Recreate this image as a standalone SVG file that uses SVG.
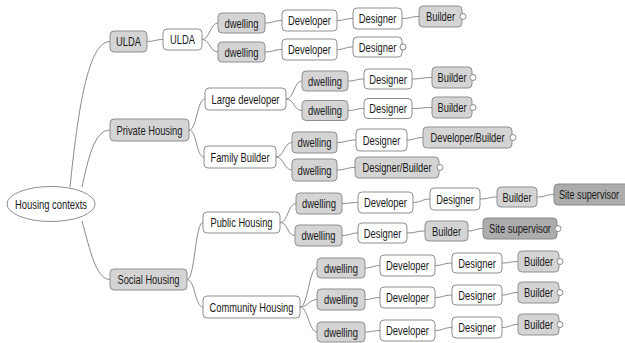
<svg xmlns="http://www.w3.org/2000/svg" width="625" height="343" viewBox="0 0 625 343">
<style>
.g{fill:#d4d4d4;stroke:#8f8f8f;stroke-width:1}
.w{fill:#ffffff;stroke:#8f8f8f;stroke-width:1}
.d{fill:#acacac;stroke:#8a8a8a;stroke-width:1}
.t{font-family:"Liberation Sans",Arial,sans-serif;font-size:13px;fill:#1a1a1a;text-anchor:middle;dominant-baseline:central}
.c{fill:none;stroke:#8a8a8a;stroke-width:1}
.leaf{fill:#fff;stroke:#8a8a8a;stroke-width:1}
</style>
<rect width="625" height="343" fill="#fff"/>
<g id="connectors">
<path class="c" d="M70,187 C78,110 88,41.5 110,41.5"/>
<path class="c" d="M82,187 C88,160 94,130 110,130"/>
<path class="c" d="M82,221 C90,250 96,279.5 110,279.5"/>
<path class="c" d="M147,41.5 C155,41.5 155,39.5 163,39.5"/>
<path class="c" d="M202,39.5 C210,39.5 210,23 218,23"/>
<path class="c" d="M202,39.5 C210,39.5 210,52 218,52"/>
<path class="c" d="M265,23 C273,23 274,20.5 282,20.5"/>
<path class="c" d="M337,20.5 C345,20.5 345,18.5 353,18.5"/>
<path class="c" d="M402,18.5 C410,18.5 411,16.5 419,16.5"/>
<path class="c" d="M265,52 C273,52 274,49.5 282,49.5"/>
<path class="c" d="M337,49.5 C345,49.5 345,47 353,47"/>
<path class="c" d="M189,130 C197,130 197,99 205,99"/>
<path class="c" d="M189,130 C197,130 196,157 204,157"/>
<path class="c" d="M286,99 C294,99 294,81 302,81"/>
<path class="c" d="M286,99 C294,99 294,110.5 302,110.5"/>
<path class="c" d="M348,81 C356,81 356,79 364,79"/>
<path class="c" d="M412,79 C422,79 422,77.5 432,77.5"/>
<path class="c" d="M348,110.5 C356,110.5 356,108.5 364,108.5"/>
<path class="c" d="M412,108.5 C422,108.5 422,107.5 432,107.5"/>
<path class="c" d="M276,157 C284,157 284,142.5 292,142.5"/>
<path class="c" d="M276,157 C284,157 284,170 292,170"/>
<path class="c" d="M337,142.5 C346,142.5 347,140 356,140"/>
<path class="c" d="M407,140 C415,140 415,137.5 423,137.5"/>
<path class="c" d="M337,170 C346,170 346,167.5 355,167.5"/>
<path class="c" d="M187,279.5 C195,279.5 195,222.5 203,222.5"/>
<path class="c" d="M187,279.5 C195,279.5 195,307 203,307"/>
<path class="c" d="M280,222.5 C288,222.5 288,203.5 296,203.5"/>
<path class="c" d="M280,222.5 C288,222.5 287,235.5 295,235.5"/>
<path class="c" d="M342,203.5 C350,203.5 350,202.5 358,202.5"/>
<path class="c" d="M413,202.5 C421,202.5 422,199 430,199"/>
<path class="c" d="M480,199 C488,199 489,197 497,197"/>
<path class="c" d="M537,197 C545,197 546,194.5 554,194.5"/>
<path class="c" d="M342,235.5 C350,235.5 350,233 358,233"/>
<path class="c" d="M407,233 C416,233 416,231 425,231"/>
<path class="c" d="M468,231 C475,231 476,228.5 483,228.5"/>
<path class="c" d="M300,307 C308,307 309,268 317,268"/>
<path class="c" d="M300,307 C308,307 309,299.5 317,299.5"/>
<path class="c" d="M300,307 C308,307 309,332 317,332"/>
<path class="c" d="M365,268 C372,268 373,265.5 380,265.5"/>
<path class="c" d="M435,265.5 C443,265.5 444,263 452,263"/>
<path class="c" d="M502,263 C510,263 510,261.5 518,261.5"/>
<path class="c" d="M365,299.5 C372,299.5 373,297.5 380,297.5"/>
<path class="c" d="M435,297.5 C443,297.5 444,295 452,295"/>
<path class="c" d="M502,295 C510,295 510,292.5 518,292.5"/>
<path class="c" d="M365,332 C372,332 373,330.5 380,330.5"/>
<path class="c" d="M435,330.5 C443,330.5 444,327.5 452,327.5"/>
<path class="c" d="M502,327.5 C510,327.5 510,324.5 518,324.5"/>
</g>
<g id="root"><ellipse class="w" cx="51" cy="204" rx="44" ry="17.5"/><text class="t" x="51" y="204" textLength="72" lengthAdjust="spacingAndGlyphs">Housing contexts</text></g>
<g id="ulda"><rect class="g" x="110" y="31" width="37" height="21" rx="4"/><text class="t" x="128.5" y="41.5" textLength="25" lengthAdjust="spacingAndGlyphs">ULDA</text></g>
<g id="ulda2"><rect class="w" x="163" y="29" width="39" height="21" rx="4"/><text class="t" x="182.5" y="39.5" textLength="25" lengthAdjust="spacingAndGlyphs">ULDA</text></g>
<g id="u-dw1"><rect class="g" x="218" y="13" width="47" height="20" rx="4"/><text class="t" x="241.5" y="23" textLength="34" lengthAdjust="spacingAndGlyphs">dwelling</text></g>
<g id="u-dev1"><rect class="w" x="282" y="10" width="55" height="21" rx="4"/><text class="t" x="309.5" y="20.5" textLength="43" lengthAdjust="spacingAndGlyphs">Developer</text></g>
<g id="u-des1"><rect class="w" x="353" y="8" width="49" height="21" rx="4"/><text class="t" x="377.5" y="18.5" textLength="37.5" lengthAdjust="spacingAndGlyphs">Designer</text></g>
<g id="u-bld1"><rect class="g" x="419" y="6" width="43" height="21" rx="4"/><text class="t" x="440.5" y="16.5" textLength="29" lengthAdjust="spacingAndGlyphs">Builder</text><circle class="leaf" cx="463" cy="16.5" r="3"/></g>
<g id="u-dw2"><rect class="g" x="218" y="42" width="47" height="20" rx="4"/><text class="t" x="241.5" y="52" textLength="34" lengthAdjust="spacingAndGlyphs">dwelling</text></g>
<g id="u-dev2"><rect class="w" x="282" y="39" width="55" height="21" rx="4"/><text class="t" x="309.5" y="49.5" textLength="43" lengthAdjust="spacingAndGlyphs">Developer</text></g>
<g id="u-des2"><rect class="w" x="353" y="37" width="49" height="20" rx="4"/><text class="t" x="377.5" y="47" textLength="37.5" lengthAdjust="spacingAndGlyphs">Designer</text><circle class="leaf" cx="403" cy="47" r="3"/></g>
<g id="private"><rect class="g" x="110" y="119" width="79" height="22" rx="4"/><text class="t" x="149.5" y="130" textLength="66" lengthAdjust="spacingAndGlyphs">Private Housing</text></g>
<g id="large-dev"><rect class="w" x="205" y="88" width="81" height="22" rx="4"/><text class="t" x="245.5" y="99" textLength="68" lengthAdjust="spacingAndGlyphs">Large developer</text></g>
<g id="ld-dw1"><rect class="g" x="302" y="71" width="46" height="20" rx="4"/><text class="t" x="325" y="81" textLength="34" lengthAdjust="spacingAndGlyphs">dwelling</text></g>
<g id="ld-des1"><rect class="w" x="364" y="69" width="48" height="20" rx="4"/><text class="t" x="388" y="79" textLength="37.5" lengthAdjust="spacingAndGlyphs">Designer</text></g>
<g id="ld-bld1"><rect class="g" x="432" y="67" width="40" height="21" rx="4"/><text class="t" x="452" y="77.5" textLength="29" lengthAdjust="spacingAndGlyphs">Builder</text><circle class="leaf" cx="473" cy="77.5" r="3"/></g>
<g id="ld-dw2"><rect class="g" x="302" y="100.5" width="46" height="20" rx="4"/><text class="t" x="325" y="110.5" textLength="34" lengthAdjust="spacingAndGlyphs">dwelling</text></g>
<g id="ld-des2"><rect class="w" x="364" y="98.5" width="48" height="20" rx="4"/><text class="t" x="388" y="108.5" textLength="37.5" lengthAdjust="spacingAndGlyphs">Designer</text></g>
<g id="ld-bld2"><rect class="g" x="432" y="97" width="40" height="21" rx="4"/><text class="t" x="452" y="107.5" textLength="29" lengthAdjust="spacingAndGlyphs">Builder</text><circle class="leaf" cx="473" cy="107.5" r="3"/></g>
<g id="family"><rect class="w" x="204" y="146" width="72" height="22" rx="4"/><text class="t" x="240" y="157" textLength="59" lengthAdjust="spacingAndGlyphs">Family Builder</text></g>
<g id="fb-dw1"><rect class="g" x="292" y="132" width="45" height="21" rx="4"/><text class="t" x="314.5" y="142.5" textLength="34" lengthAdjust="spacingAndGlyphs">dwelling</text></g>
<g id="fb-des1"><rect class="w" x="356" y="129" width="51" height="22" rx="4"/><text class="t" x="381.5" y="140" textLength="37.5" lengthAdjust="spacingAndGlyphs">Designer</text></g>
<g id="fb-devbld"><rect class="g" x="423" y="127" width="89" height="21" rx="4"/><text class="t" x="467.5" y="137.5" textLength="74" lengthAdjust="spacingAndGlyphs">Developer/Builder</text><circle class="leaf" cx="513" cy="137.5" r="3"/></g>
<g id="fb-dw2"><rect class="g" x="292" y="159" width="45" height="22" rx="4"/><text class="t" x="314.5" y="170" textLength="34" lengthAdjust="spacingAndGlyphs">dwelling</text></g>
<g id="fb-desbld"><rect class="g" x="355" y="157" width="84" height="21" rx="4"/><text class="t" x="397" y="167.5" textLength="69" lengthAdjust="spacingAndGlyphs">Designer/Builder</text><circle class="leaf" cx="440" cy="167.5" r="3"/></g>
<g id="social"><rect class="g" x="110" y="269" width="77" height="21" rx="4"/><text class="t" x="148.5" y="279.5" textLength="62" lengthAdjust="spacingAndGlyphs">Social Housing</text></g>
<g id="public"><rect class="w" x="203" y="212" width="77" height="21" rx="4"/><text class="t" x="241.5" y="222.5" textLength="62" lengthAdjust="spacingAndGlyphs">Public Housing</text></g>
<g id="ph-dw1"><rect class="g" x="296" y="193" width="46" height="21" rx="4"/><text class="t" x="319" y="203.5" textLength="34" lengthAdjust="spacingAndGlyphs">dwelling</text></g>
<g id="ph-dev1"><rect class="w" x="358" y="192" width="55" height="21" rx="4"/><text class="t" x="385.5" y="202.5" textLength="43" lengthAdjust="spacingAndGlyphs">Developer</text></g>
<g id="ph-des1"><rect class="w" x="430" y="188" width="50" height="22" rx="4"/><text class="t" x="455" y="199" textLength="37.5" lengthAdjust="spacingAndGlyphs">Designer</text></g>
<g id="ph-bld1"><rect class="g" x="497" y="187" width="40" height="20" rx="4"/><text class="t" x="517" y="197" textLength="29" lengthAdjust="spacingAndGlyphs">Builder</text></g>
<g id="ph-site1"><rect class="d" x="554" y="184" width="76" height="21" rx="4"/><text class="t" transform="translate(589,194.5) scale(0.7,1)" x="0" y="0">Site supervisor</text></g>
<g id="ph-dw2"><rect class="g" x="295" y="225" width="47" height="21" rx="4"/><text class="t" x="318.5" y="235.5" textLength="34" lengthAdjust="spacingAndGlyphs">dwelling</text></g>
<g id="ph-des2"><rect class="w" x="358" y="223" width="49" height="20" rx="4"/><text class="t" x="382.5" y="233" textLength="37.5" lengthAdjust="spacingAndGlyphs">Designer</text></g>
<g id="ph-bld2"><rect class="g" x="425" y="221" width="43" height="20" rx="4"/><text class="t" x="446.5" y="231" textLength="29" lengthAdjust="spacingAndGlyphs">Builder</text></g>
<g id="ph-site2"><rect class="d" x="483" y="218" width="74" height="21" rx="4"/><text class="t" x="520" y="228.5" textLength="62" lengthAdjust="spacingAndGlyphs">Site supervisor</text><circle class="leaf" cx="558" cy="228.5" r="3"/></g>
<g id="community"><rect class="w" x="203" y="296" width="97" height="22" rx="4"/><text class="t" x="251.5" y="307" textLength="84" lengthAdjust="spacingAndGlyphs">Community Housing</text></g>
<g id="ch-dw1"><rect class="g" x="317" y="258" width="48" height="20" rx="4"/><text class="t" x="341" y="268" textLength="34" lengthAdjust="spacingAndGlyphs">dwelling</text></g>
<g id="ch-dev1"><rect class="w" x="380" y="255" width="55" height="21" rx="4"/><text class="t" x="407.5" y="265.5" textLength="43" lengthAdjust="spacingAndGlyphs">Developer</text></g>
<g id="ch-des1"><rect class="w" x="452" y="253" width="50" height="20" rx="4"/><text class="t" x="477" y="263" textLength="37.5" lengthAdjust="spacingAndGlyphs">Designer</text></g>
<g id="ch-bld1"><rect class="g" x="518" y="251" width="41" height="21" rx="4"/><text class="t" x="538.5" y="261.5" textLength="29" lengthAdjust="spacingAndGlyphs">Builder</text><circle class="leaf" cx="560" cy="261.5" r="3"/></g>
<g id="ch-dw2"><rect class="g" x="317" y="289" width="48" height="21" rx="4"/><text class="t" x="341" y="299.5" textLength="34" lengthAdjust="spacingAndGlyphs">dwelling</text></g>
<g id="ch-dev2"><rect class="w" x="380" y="287" width="55" height="21" rx="4"/><text class="t" x="407.5" y="297.5" textLength="43" lengthAdjust="spacingAndGlyphs">Developer</text></g>
<g id="ch-des2"><rect class="w" x="452" y="285" width="50" height="20" rx="4"/><text class="t" x="477" y="295" textLength="37.5" lengthAdjust="spacingAndGlyphs">Designer</text></g>
<g id="ch-bld2"><rect class="g" x="518" y="282" width="41" height="21" rx="4"/><text class="t" x="538.5" y="292.5" textLength="29" lengthAdjust="spacingAndGlyphs">Builder</text><circle class="leaf" cx="560" cy="292.5" r="3"/></g>
<g id="ch-dw3"><rect class="g" x="317" y="322" width="48" height="20" rx="4"/><text class="t" x="341" y="332" textLength="34" lengthAdjust="spacingAndGlyphs">dwelling</text></g>
<g id="ch-dev3"><rect class="w" x="380" y="320" width="55" height="21" rx="4"/><text class="t" x="407.5" y="330.5" textLength="43" lengthAdjust="spacingAndGlyphs">Developer</text></g>
<g id="ch-des3"><rect class="w" x="452" y="317" width="50" height="21" rx="4"/><text class="t" x="477" y="327.5" textLength="37.5" lengthAdjust="spacingAndGlyphs">Designer</text></g>
<g id="ch-bld3"><rect class="g" x="518" y="314" width="41" height="21" rx="4"/><text class="t" x="538.5" y="324.5" textLength="29" lengthAdjust="spacingAndGlyphs">Builder</text><circle class="leaf" cx="560" cy="324.5" r="3"/></g>
</svg>
